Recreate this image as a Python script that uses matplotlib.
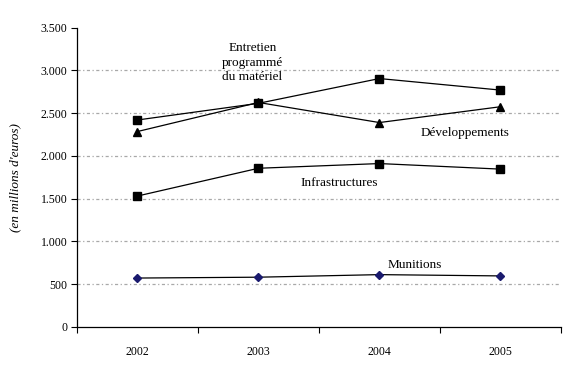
import matplotlib
matplotlib.use('Agg')
import matplotlib.pyplot as plt
from matplotlib.ticker import FuncFormatter, FixedLocator

annees = ['2002', '2003', '2004', '2005']
entretien = [2420, 2615, 2905, 2770]
developpements = [2285, 2625, 2390, 2575]
infrastructures = [1530, 1855, 1910, 1845]
munitions = [570, 580, 610, 595]

plt.rcParams['font.family'] = ['Liberation Serif', 'DejaVu Serif']
plt.rcParams['font.size'] = 8.5

fig = plt.figure(figsize=(5.76, 3.73), dpi=100)
ax = fig.add_axes([0.1337, 0.124, 0.840, 0.8017])

x = list(range(1, len(annees) + 1))
ax.plot(x, entretien, color='black', lw=0.9, marker='s', ms=6, zorder=3)
ax.plot(x, developpements, color='black', lw=0.9, marker='^', ms=6, zorder=3)
ax.plot(x, infrastructures, color='black', lw=0.9, marker='s', ms=6, zorder=3)
ax.plot(x, munitions, color='black', lw=0.9, marker='D', ms=4,
        mfc='#1a1a6e', mec='#1a1a6e', zorder=3)

ax.set_xlim(0.5, len(annees) + 0.5)
ax.set_ylim(0, 3500)
ax.set_yticks(range(0, 3501, 500))
ax.yaxis.set_major_formatter(FuncFormatter(lambda v, p: f'{int(v):,}'.replace(',', '.')))

# ticks between categories, labels at the centres
ax.xaxis.set_major_locator(FixedLocator([i + 0.5 for i in range(0, len(annees) + 1)]))
ax.xaxis.set_minor_locator(FixedLocator(x))
ax.set_xticklabels([], minor=False)
ax.set_xticklabels(annees, minor=True)
ax.tick_params(axis='x', which='minor', length=0, pad=14)
ax.tick_params(axis='x', which='major', length=4, direction='out')
ax.tick_params(axis='y', length=4, direction='out', pad=3)

for v in range(500, 3001, 500):
    ax.axhline(v, color='#a8a8a8', lw=0.9, ls=(0, (2.5, 2, 1, 2)), zorder=1)

for s in ['top', 'right']:
    ax.spines[s].set_visible(False)
ax.spines['left'].set_linewidth(0.9)
ax.spines['bottom'].set_linewidth(0.9)

ax.text(1.95, 3090, 'Entretien\nprogrammé\ndu matériel', ha='center', va='center',
        linespacing=1.3, fontsize=9.5)
ax.text(3.71, 2272, 'Développements', ha='center', va='center', fontsize=9.5)
ax.text(2.67, 1683, 'Infrastructures', ha='center', va='center', fontsize=9.5)
ax.text(3.29, 722, 'Munitions', ha='center', va='center', fontsize=9.5)

fig.text(15 / 576, 1 - 178 / 373, "(en millions d'euros)", rotation=90,
         ha='center', va='center', style='italic', fontsize=9.5)

fig.savefig('out.png', dpi=100)
